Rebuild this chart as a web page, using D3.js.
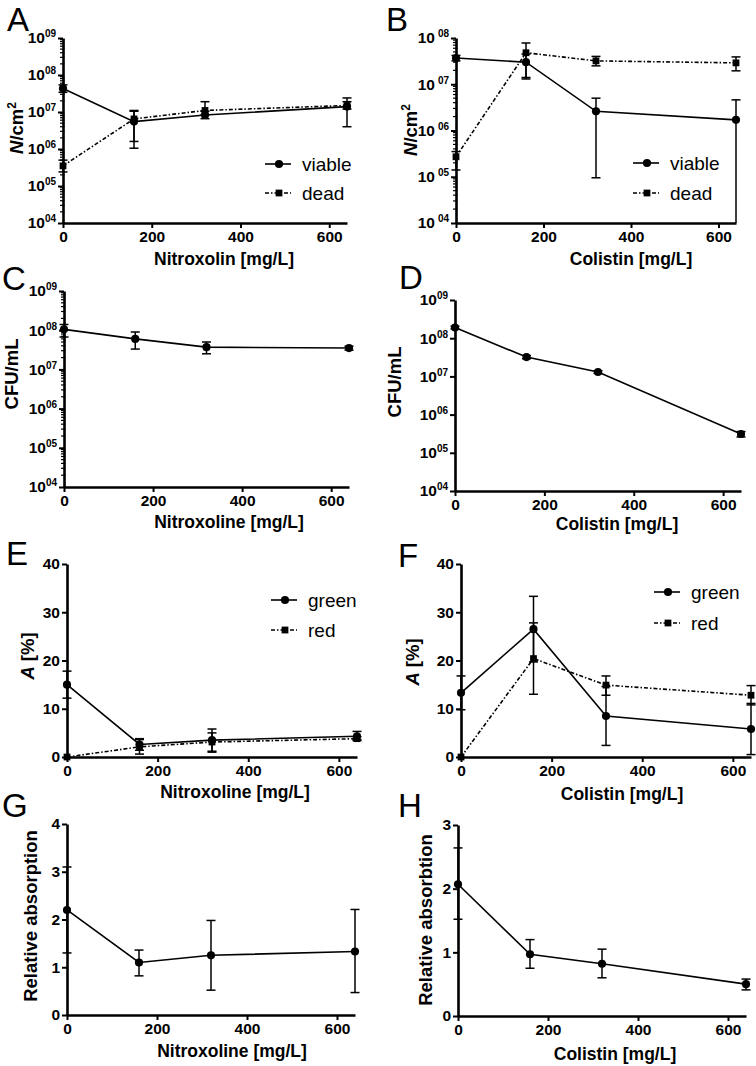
<!DOCTYPE html>
<html><head><meta charset="utf-8">
<script src="https://cdn.jsdelivr.net/npm/d3@7/dist/d3.min.js"></script>
<style>
body{margin:0;background:#fff;}
svg{display:block;font-family:Arial,"Liberation Sans",Helvetica,sans-serif;}
</style></head>
<body>
<svg id="chart" width="756" height="1066"></svg>
<script>
// ---------- data ----------
const conc = [0, 160, 320, 640];
const xTicks = [0, 200, 400, 600];

// A: Nitroxolin, N/cm2
const aViable   = [4.3e7, 5.5e6, 8.3e6, 1.4e7];
const aViableLo = [3.4e7, 1.6e6, 6.6e6, 4.0e6];
const aViableHi = [5.4e7, 1.05e7, 1.05e7, 2.4e7];
const aDead     = [3.5e5, 6.5e6, 1.1e7, 1.5e7];
const aDeadLo   = [2.4e5, 1.05e6, 8.5e6, 1.2e7];
const aDeadHi   = [5.0e5, 1.1e7, 1.9e7, 1.9e7];

// B: Colistin, N/cm2
const bViable   = [3.7e7, 3.0e7, 2.6e6, 1.7e6];
const bViableLo = [3.2e7, 1.4e7, 9.5e4, 1.0e4];
const bViableHi = [4.2e7, 4.5e7, 5.0e6, 4.6e6];
const bDead     = [2.7e5, 4.8e7, 3.2e7, 2.9e7];
const bDeadLo   = [1.4e5, 1.3e7, 2.5e7, 1.95e7];
const bDeadHi   = [3.5e5, 7.8e7, 4.0e7, 3.9e7];

// C: Nitroxoline, CFU/mL
const cCfu   = [1.05e8, 6.0e7, 3.7e7, 3.5e7];
const cCfuLo = [6.7e7, 3.3e7, 2.5e7, 3.1e7];
const cCfuHi = [1.4e8, 9.0e7, 5.0e7, 3.9e7];

// D: Colistin, CFU/mL
const dCfu   = [1.9e8, 3.2e7, 1.3e7, 3.1e5];
const dCfuLo = [1.75e8, 2.9e7, 1.2e7, 2.6e5];
const dCfuHi = [2.05e8, 3.5e7, 1.4e7, 3.6e5];

// E: Nitroxoline, A [%]
const eGreen   = [15.0, 2.6, 3.5, 4.3];
const eGreenLo = [12.2, 1.4, 1.2, 3.6];
const eGreenHi = [17.8, 3.8, 5.8, 5.3];
const eRed     = [0.0, 2.1, 3.1, 3.8];
const eRedLo   = [0.0, 0.6, 1.0, 3.4];
const eRedHi   = [0.0, 3.6, 5.0, 4.2];

// F: Colistin, A [%]
const fGreen   = [13.3, 26.5, 8.5, 5.8];
const fGreenLo = [9.8, 19.7, 2.4, 0.5];
const fGreenHi = [16.8, 33.3, 14.6, 11.1];
const fRed     = [0.0, 20.4, 14.9, 12.8];
const fRedLo   = [0.0, 13.0, 12.8, 10.8];
const fRedHi   = [0.0, 27.8, 16.8, 14.8];

// G: Nitroxoline, relative absorption
const gAbs   = [2.2, 1.1, 1.25, 1.33];
const gAbsLo = [1.3, 0.82, 0.52, 0.47];
const gAbsHi = [3.1, 1.36, 1.98, 2.21];

// H: Colistin, relative absorbtion
const hAbs   = [2.07, 0.97, 0.82, 0.5];
const hAbsLo = [1.52, 0.75, 0.6, 0.41];
const hAbsHi = [2.64, 1.2, 1.05, 0.58];

const logTicksA = [1e4, 1e5, 1e6, 1e7, 1e8, 1e9];
const logTicksB = [1e4, 1e5, 1e6, 1e7, 1e8];
const linTicksEF = [0, 10, 20, 30, 40];
const linTicksG = [0, 1, 2, 3, 4];
const linTicksH = [0, 1, 2, 3];

// ---------- drawing ----------
const svg = d3.select('#chart');
const SOLID = null, DASHDOT = '4,2,1.5,2';

function series(values, lo, hi, shape, dash){ return {values, lo, hi, shape, dash}; }

function drawPanel(p){
  const g = svg.append('g');
  const x = d3.scaleLinear().domain([0, 640]).range([p.x0, p.x1]);
  const y = (p.log ? d3.scaleLog() : d3.scaleLinear()).domain(p.yDomain).range([p.y1, p.y0]);

  // panel letter
  g.append('text').attr('x', p.letterX).attr('y', p.letterY).attr('font-size', 33).text(p.letter);

  // x axis
  const xa = g.append('g').attr('transform', `translate(0,${p.y1})`)
    .call(d3.axisBottom(x).tickValues(xTicks).tickSize(5).tickSizeOuter(0).tickPadding(3));
  // y axis
  const ya = g.append('g').attr('transform', `translate(${p.x0},0)`)
    .call(d3.axisLeft(y).tickValues(p.yTicks).tickSize(5).tickSizeOuter(0).tickPadding(2)
      .tickFormat(p.log ? () => '' : d3.format('d')));
  [xa, ya].forEach(a => {
    a.select('.domain').attr('stroke', '#000').attr('stroke-width', 2.6);
    a.selectAll('.tick line').attr('stroke', '#000').attr('stroke-width', 2);
    a.selectAll('.tick text').attr('fill', '#000').attr('font-size', 15.5).attr('font-weight', 'bold')
      .attr('font-family', 'Arial, "Liberation Sans", sans-serif');
  });
  if (p.log) {
    ya.selectAll('.tick text').each(function(d){
      const t = d3.select(this);
      const e = Math.round(Math.log10(d));
      t.append('tspan').text('10');
      t.append('tspan').attr('dx', p.supGap).attr('dy', -6).attr('font-size', 10)
        .text(String(e).padStart(2, '0'));
    });
    if (p.minor) {
      const minors = [];
      const [lo, hi] = p.yDomain;
      for (let k = Math.log10(lo); k < Math.log10(hi); k++)
        for (let m = 2; m <= 9; m++) minors.push(m * Math.pow(10, k));
      g.append('g').selectAll('line').data(minors).join('line')
        .attr('x1', p.x0 - 3).attr('x2', p.x0 + 1.5)
        .attr('y1', d => y(d)).attr('y2', d => y(d))
        .attr('stroke', '#000').attr('stroke-width', 1.2);
    }
  }

  // axis titles
  g.append('text').attr('x', p.xtX).attr('y', p.xtY).attr('text-anchor', 'middle')
    .attr('font-size', 17.5).attr('font-weight', 'bold').text(p.xTitle);
  const yt = g.append('text').attr('transform', `translate(${p.ytX},${p.ytY}) rotate(-90)`)
    .attr('text-anchor', 'middle').attr('font-size', 18.5).attr('font-weight', 'bold');
  p.yTitle(yt);

  // series
  p.series.forEach(s => {
    const pts = conc.map((c, i) => ({c, v: s.values[i], lo: s.lo[i], hi: s.hi[i]}));
    const yc = v => Math.min(p.y1, Math.max(p.y0, y(Math.max(v, p.yDomain[0]))));
    // error bars
    const eb = g.append('g').attr('stroke', '#000').attr('stroke-width', 1.5);
    pts.forEach(d => {
      if (d.hi === d.lo) return;
      eb.append('line').attr('x1', x(d.c)).attr('x2', x(d.c)).attr('y1', yc(d.hi)).attr('y2', yc(d.lo));
      [d.hi, d.lo].forEach(v => {
        if (yc(v) >= p.y1 - 0.5) return;
        eb.append('line').attr('x1', x(d.c) - 4.5).attr('x2', x(d.c) + 4.5).attr('y1', yc(v)).attr('y2', yc(v));
      });
    });
    // line
    g.append('path').datum(pts)
      .attr('d', d3.line().x(d => x(d.c)).y(d => yc(d.v)))
      .attr('fill', 'none').attr('stroke', '#000').attr('stroke-width', 1.6)
      .attr('stroke-dasharray', s.dash);
    // markers
    const sym = d3.symbol().type(s.shape === 'circle' ? d3.symbolCircle : d3.symbolSquare)
      .size(s.shape === 'circle' ? 52 : 46);
    g.append('g').selectAll('path').data(pts).join('path')
      .attr('transform', d => `translate(${x(d.c)},${yc(d.v)})`)
      .attr('d', sym).attr('fill', '#000');
  });

  // legend
  if (p.legend) {
    p.legend.labels.forEach((lab, i) => {
      const s = p.series[i];
      const ly = p.legend.y + i * p.legend.dy;
      const lx = p.legend.x;
      g.append('line').attr('x1', lx).attr('x2', lx + 26).attr('y1', ly).attr('y2', ly)
        .attr('stroke', '#000').attr('stroke-width', 1.6).attr('stroke-dasharray', s.dash);
      const sym = d3.symbol().type(s.shape === 'circle' ? d3.symbolCircle : d3.symbolSquare)
        .size(s.shape === 'circle' ? 52 : 46);
      g.append('path').attr('transform', `translate(${lx + 14},${ly})`).attr('d', sym).attr('fill', '#000');
      g.append('text').attr('x', lx + 37).attr('y', ly + 6.5).attr('font-size', 19).text(lab);
    });
  }
}

function ncm(t){
  t.append('tspan').attr('font-style', 'italic').text('N');
  t.append('tspan').text('/cm');
  t.append('tspan').attr('dy', -7).attr('font-size', 12).text('2');
}
function aPct(t){
  t.append('tspan').attr('font-style', 'italic').text('A');
  t.append('tspan').attr('dx', 5).text('[%]');
}

const panels = [
  {letter:'A', letterX:7, letterY:31, x0:63, x1:347, y0:38, y1:223, log:true, minor:true, supGap:0,
   yDomain:[1e4,1e9], yTicks:logTicksA, xTitle:'Nitroxolin [mg/L]', xtX:224, xtY:265, ytX:23, ytY:128,
   yTitle:ncm, series:[series(aViable,aViableLo,aViableHi,'circle',SOLID), series(aDead,aDeadLo,aDeadHi,'square',DASHDOT)],
   legend:{x:265, y:164, dy:29, labels:['viable','dead']}},
  {letter:'B', letterX:386, letterY:31, x0:456, x1:736, y0:38, y1:223, log:true, minor:true, supGap:3,
   yDomain:[1e4,1e8], yTicks:logTicksB, xTitle:'Colistin [mg/L]', xtX:631, xtY:265, ytX:417, ytY:130,
   yTitle:ncm, series:[series(bViable,bViableLo,bViableHi,'circle',SOLID), series(bDead,bDeadLo,bDeadHi,'square',DASHDOT)],
   legend:{x:633, y:163, dy:30, labels:['viable','dead']}},
  {letter:'C', letterX:2, letterY:290, x0:64, x1:349, y0:291, y1:487, log:true, minor:true, supGap:0,
   yDomain:[1e4,1e9], yTicks:logTicksA, xTitle:'Nitroxoline [mg/L]', xtX:229, xtY:528, ytX:18, ytY:374,
   yTitle:t=>t.text('CFU/mL'), series:[series(cCfu,cCfuLo,cCfuHi,'circle',SOLID)]},
  {letter:'D', letterX:399, letterY:289, x0:455, x1:741, y0:300, y1:491, log:true, minor:false, supGap:0,
   yDomain:[1e4,1e9], yTicks:logTicksA, xTitle:'Colistin [mg/L]', xtX:617, xtY:530, ytX:401, ytY:382,
   yTitle:t=>t.text('CFU/mL'), series:[series(dCfu,dCfuLo,dCfuHi,'circle',SOLID)]},
  {letter:'E', letterX:6, letterY:565, x0:67, x1:357, y0:564, y1:757, log:false, yDomain:[0,40], yTicks:linTicksEF,
   xTitle:'Nitroxoline [mg/L]', xtX:235, xtY:798, ytX:34, ytY:656, yTitle:aPct,
   series:[series(eGreen,eGreenLo,eGreenHi,'circle',SOLID), series(eRed,eRedLo,eRedHi,'square',DASHDOT)],
   legend:{x:271, y:600, dy:30, labels:['green','red']}},
  {letter:'F', letterX:398, letterY:567, x0:461, x1:751, y0:564, y1:757, log:false, yDomain:[0,40], yTicks:linTicksEF,
   xTitle:'Colistin [mg/L]', xtX:622, xtY:800, ytX:419, ytY:662, yTitle:aPct,
   series:[series(fGreen,fGreenLo,fGreenHi,'circle',SOLID), series(fRed,fRedLo,fRedHi,'square',DASHDOT)],
   legend:{x:654, y:592, dy:31, labels:['green','red']}},
  {letter:'G', letterX:2, letterY:817, x0:67, x1:355, y0:824, y1:1015, log:false, yDomain:[0,4], yTicks:linTicksG,
   xTitle:'Nitroxoline [mg/L]', xtX:232, xtY:1057, ytX:37, ytY:916, yTitle:t=>t.text('Relative absorption'),
   series:[series(gAbs,gAbsLo,gAbsHi,'circle',SOLID)]},
  {letter:'H', letterX:398, letterY:817, x0:458, x1:746, y0:825, y1:1016, log:false, yDomain:[0,3], yTicks:linTicksH,
   xTitle:'Colistin [mg/L]', xtX:615, xtY:1060, ytX:432, ytY:920, yTitle:t=>t.text('Relative absorbtion'),
   series:[series(hAbs,hAbsLo,hAbsHi,'circle',SOLID)]}
];
panels.forEach(drawPanel);
</script>
</body></html>
